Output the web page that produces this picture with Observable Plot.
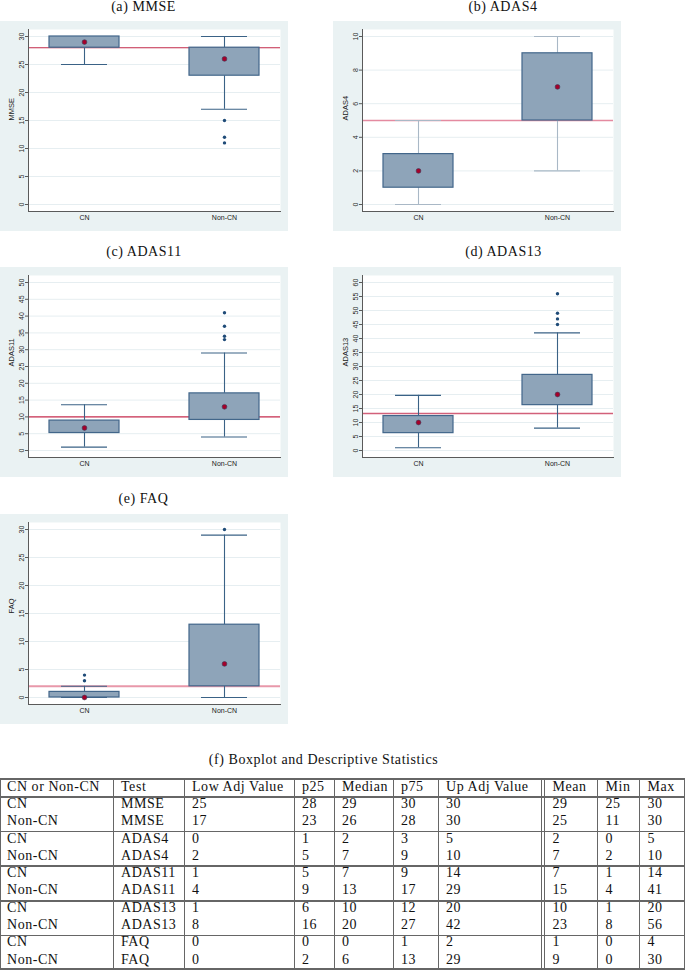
<!DOCTYPE html>
<html>
<head>
<meta charset="utf-8">
<script src="https://cdn.jsdelivr.net/npm/d3@7"></script>
<script src="https://cdn.jsdelivr.net/npm/@observablehq/plot@0.6"></script>
<style>
  html, body { margin: 0; padding: 0; background: #fff; }
  #root { position: relative; width: 685px; height: 970px; overflow: hidden; }
  .abs { position: absolute; white-space: nowrap; }
  .serif { font-family: 'Liberation Serif', 'Times New Roman', serif; font-size: 14px; line-height: 14px; letter-spacing: 0.55px; color: #111; }
  .hline, .vline { position: absolute; background: #666; }
  svg { display: block; }
</style>
</head>
<body>
<div id="root"></div>
<script>
// ---------- data ----------
const tests = ["MMSE", "ADAS4", "ADAS11", "ADAS13", "FAQ"];
const groups = ["CN", "Non-CN"];
const panelTitles = ["(a) MMSE", "(b) ADAS4", "(c) ADAS11", "(d) ADAS13", "(e) FAQ"];

// values as drawn in the box plots [test][group]
const boxLowAdj = [[25, 17], [0, 2], [1, 4], [1, 8], [0, 0]];
const boxP25    = [[28, 23], [1, 5], [5.2, 9.1], [6.2, 16.2], [0, 2]];
const boxMedian = [[29, 26], [2, 7], [6.7, 13], [10, 20], [0, 6]];
const boxP75    = [[30, 28], [3, 9], [8.9, 17], [12.3, 27], [1, 13]];
const boxUpAdj  = [[30, 30], [5, 10], [13.6, 29], [19.7, 42], [2, 29]];
const outliersCN    = [[], [], [], [], [4, 3]];
const outliersNonCN = [[15, 12, 11], [], [41, 37, 34, 33], [56, 49, 47, 45], [30]];
const cutoffs = [28, 5, 10, 13.2, 2];
const yTicks = [
  [0, 5, 10, 15, 20, 25, 30],
  [0, 2, 4, 6, 8, 10],
  [0, 5, 10, 15, 20, 25, 30, 35, 40, 45, 50],
  [0, 5, 10, 15, 20, 25, 30, 35, 40, 45, 50, 55, 60],
  [0, 5, 10, 15, 20, 25, 30]
];

// descriptive statistics table [test][group]
const tableTitle = "(f) Boxplot and Descriptive Statistics";
const tableHeader = ["CN or Non-CN", "Test", "Low Adj Value", "p25", "Median", "p75", "Up Adj Value", "Mean", "Min", "Max"];
const tLowAdj = [[25, 17], [0, 2], [1, 4], [1, 8], [0, 0]];
const tP25    = [[28, 23], [1, 5], [5, 9], [6, 16], [0, 2]];
const tMedian = [[29, 26], [2, 7], [7, 13], [10, 20], [0, 6]];
const tP75    = [[30, 28], [3, 9], [9, 17], [12, 27], [1, 13]];
const tUpAdj  = [[30, 30], [5, 10], [14, 29], [20, 42], [2, 29]];
const tMean   = [[29, 25], [2, 7], [7, 15], [10, 23], [1, 9]];
const tMin    = [[25, 11], [0, 2], [1, 4], [1, 8], [0, 0]];
const tMax    = [[30, 30], [5, 10], [14, 41], [20, 56], [4, 30]];

// ---------- layout / style ----------
const root = document.getElementById("root");
const panelPos = [[0, 21], [333, 21], [0, 267], [333, 267], [0, 514]];
const panelMarginLeft = [28, 29, 28, 29, 28];
const titlePos = [[143.5, 7.5], [503, 7.5], [144, 252.5], [503.5, 252.5], [143.5, 499]];
const cutColor = ["#c2284a", "#e48aa0", "#cc2f50", "#d2607a", "#e898aa"];
const cutWidth = [1.1, 1.3, 1.1, 1.6, 2];
const whiskColor = ["#3a6286", "#a9b8c6", "#3a6286", "#3a6286", "#3a6286"];
const BG = "#eaf2f3";

function serifText(txt, x, yCap, center) {
  const d = document.createElement("div");
  d.className = "abs serif";
  d.textContent = txt;
  d.style.left = x + "px";
  d.style.top = (yCap - 7.1) + "px";
  if (center) d.style.transform = "translateX(-50%)";
  root.appendChild(d);
}

function panel(i) {
  const rows = groups.map((g, j) => ({
    g, lo: boxLowAdj[i][j], q1: boxP25[i][j], med: boxMedian[i][j], q3: boxP75[i][j], hi: boxUpAdj[i][j]
  }));
  const outs = [
    ...outliersCN[i].map(v => ({g: groups[0], v})),
    ...outliersNonCN[i].map(v => ({g: groups[1], v}))
  ];
  const ticks = yTicks[i];
  return Plot.plot({
    width: 288,
    height: 210,
    marginLeft: panelMarginLeft[i],
    marginRight: 8,
    marginTop: 8,
    marginBottom: 20,
    style: {background: BG, fontFamily: "'Liberation Sans', Arial, sans-serif", fontSize: "7px", color: "#222", overflow: "visible"},
    x: {type: "band", domain: groups, paddingInner: 0.5, paddingOuter: 0.15},
    y: {domain: [ticks[0], ticks[ticks.length - 1]], insetTop: 7, insetBottom: 7},
    marks: [
      Plot.frame({fill: "white", stroke: null}),
      Plot.gridY(ticks, {stroke: "#e6eef1", strokeOpacity: 1, strokeWidth: 1}),
      Plot.ruleY([cutoffs[i]], {stroke: cutColor[i], strokeWidth: cutWidth[i]}),
      Plot.ruleX(rows, {x: "g", y1: "lo", y2: "q1", stroke: whiskColor[i], strokeWidth: 1.1}),
      Plot.ruleX(rows, {x: "g", y1: "q3", y2: "hi", stroke: whiskColor[i], strokeWidth: 1.1}),
      Plot.tickY(rows, {x: "g", y: "lo", inset: 12, stroke: whiskColor[i], strokeWidth: 1.1}),
      Plot.tickY(rows, {x: "g", y: "hi", inset: 12, stroke: whiskColor[i], strokeWidth: 1.1}),
      Plot.barY(rows, {x: "g", y1: "q1", y2: "q3", fill: "#8ea4b9", stroke: "#42668a", strokeWidth: 1.2}),
      Plot.dot(outs, {x: "g", y: "v", r: 1.7, fill: "#1f4b78", stroke: null}),
      Plot.dot(rows, {x: "g", y: "med", r: 2.4, fill: "#a5002a", stroke: "#3a3a58", strokeWidth: 0.6}),
      Plot.frame({anchor: "left", stroke: "#5a5a5a"}),
      Plot.frame({anchor: "bottom", stroke: "#5a5a5a"}),
      Plot.axisY(ticks, {tickSize: 3, tickPadding: 1.5, tickRotate: -90, fontSize: 7, label: null, stroke: "#5a5a5a", fill: "#2a2a2a"}),
      Plot.axisX({tickSize: 0, tickPadding: 4, label: null, fontSize: 7, fill: "#1a1a1a"}),
      Plot.text([tests[i]], {frameAnchor: "left", dx: -17, rotate: -90, fontSize: 7.5, fill: "#1a1a1a"})
    ]
  });
}

tests.forEach((t, i) => {
  const wrap = document.createElement("div");
  wrap.className = "abs";
  wrap.style.left = panelPos[i][0] + "px";
  wrap.style.top = panelPos[i][1] + "px";
  wrap.appendChild(panel(i));
  root.appendChild(wrap);
  serifText(panelTitles[i], titlePos[i][0], titlePos[i][1], true);
});

// ---------- table ----------
serifText(tableTitle, 323.5, 760, true);
const colEdges = [0, 113, 184, 294, 334, 393, 438, 544, 597, 639];
const colPad = [7, 8, 8, 8, 8, 8, 8, 8.5, 8.5, 8.5];
const headerCap = 787;
const rowCap0 = 804, rowPitch = 17.3;
tableHeader.forEach((h, c) => serifText(h, colEdges[c] + colPad[c], headerCap, false));
const tableRows = [];
tests.forEach((t, ti) => groups.forEach((g, gi) => {
  tableRows.push([g, t, tLowAdj[ti][gi], tP25[ti][gi], tMedian[ti][gi], tP75[ti][gi], tUpAdj[ti][gi], tMean[ti][gi], tMin[ti][gi], tMax[ti][gi]]);
}));
tableRows.forEach((r, k) => r.forEach((v, c) => serifText(String(v), colEdges[c] + colPad[c], rowCap0 + rowPitch * k, false)));

function hline(y, w) {
  const d = document.createElement("div");
  d.className = "hline";
  d.style.left = "0px"; d.style.width = "685px";
  d.style.top = (y - w / 2) + "px"; d.style.height = w + "px";
  root.appendChild(d);
}
function vline(x, y1, y2) {
  const d = document.createElement("div");
  d.className = "vline";
  d.style.left = (x - 0.5) + "px"; d.style.width = "1px";
  d.style.top = y1 + "px"; d.style.height = (y2 - y1) + "px";
  root.appendChild(d);
}
const tTop = 779, tHead = 797, tBottom = 969, groupPitch = 34.6;
hline(tTop, 1.2);
hline(tHead, 1.2);
for (let gI = 1; gI < tests.length; gI++) hline(tHead + groupPitch * gI, 1.5);
hline(tBottom, 1.2);
[0.5, 113, 184, 294, 334, 393, 438, 541, 544, 597, 639, 684.5].forEach(x => vline(x, tTop, tBottom));
</script>
</body>
</html>
